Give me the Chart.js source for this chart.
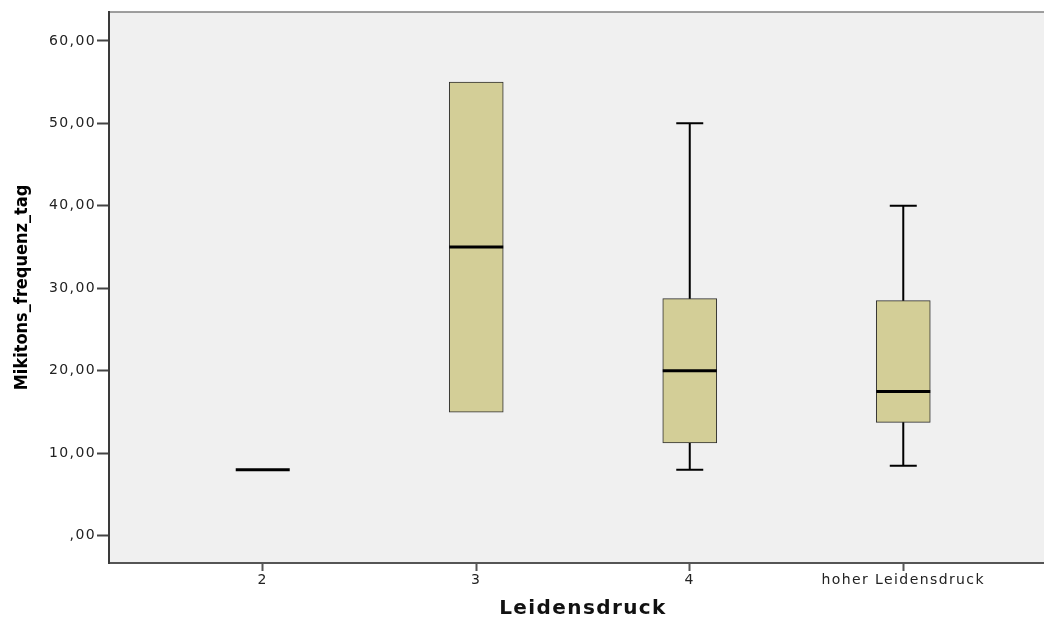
<!DOCTYPE html>
<html>
<head>
<meta charset="utf-8">
<script src="https://cdn.jsdelivr.net/npm/chart.js@4/dist/chart.umd.min.js"></script>
<style>
  html, body { margin: 0; padding: 0; background: #fff; overflow: hidden; }
  #wrap { width: 1058px; height: 619px; }
</style>
</head>
<body>
<div id="wrap"><canvas id="box" width="1058" height="619"></canvas></div>
<script>
// Leidensdruck groups and their box plot summary values
const categories = ['2', '3', '4', 'hoher Leidensdruck'];
const whiskerLow = [8, 15, 8, 8.5];
const q1 = [8, 15, 11.25, 13.75];
const medians = [8, 35, 20, 17.5];
const q3 = [8, 55, 28.75, 28.5];
const whiskerHigh = [8, 55, 50, 40];

const yTicks = [0, 10, 20, 30, 40, 50, 60];
const yTickLabels = [',00', '10,00', '20,00', '30,00', '40,00', '50,00', '60,00'];

const boxWidth = 54;
const wideText = '1.4px';

// boxes with a real spread become floating bars, a flat group gets only its median line
const boxData = categories.map((c, i) =>
    q3[i] > q1[i] ? { x: i + 1, y: [q1[i], q3[i]] } : null
).filter(d => d);

const plotArea = {
    id: 'plotArea',
    beforeUpdate(chart) {
        chart.ctx.letterSpacing = wideText;
    },
    beforeDraw(chart) {
        const { ctx, chartArea: a } = chart;
        ctx.letterSpacing = wideText;
        ctx.save();
        ctx.fillStyle = '#f0f0f0';
        ctx.fillRect(a.left, a.top, a.right - a.left, a.bottom - a.top);
        ctx.strokeStyle = '#808080';
        ctx.lineWidth = 1.5;
        ctx.beginPath();
        ctx.moveTo(a.left, a.top);
        ctx.lineTo(a.right, a.top);
        ctx.lineTo(a.right, a.bottom);
        ctx.stroke();
        ctx.restore();
    },
    afterDatasetsDraw(chart) {
        const { ctx, scales: { x, y } } = chart;
        ctx.save();
        ctx.strokeStyle = '#000';
        ctx.lineCap = 'butt';
        categories.forEach((c, i) => {
            const px = x.getPixelForValue(i + 1);
            const half = boxWidth / 2;
            const cap = boxWidth / 4;
            ctx.lineWidth = 2;
            if (whiskerHigh[i] > q3[i]) {
                const top = y.getPixelForValue(whiskerHigh[i]);
                ctx.beginPath();
                ctx.moveTo(px, y.getPixelForValue(q3[i]));
                ctx.lineTo(px, top);
                ctx.moveTo(px - cap, top);
                ctx.lineTo(px + cap, top);
                ctx.stroke();
            }
            if (whiskerLow[i] < q1[i]) {
                const bot = y.getPixelForValue(whiskerLow[i]);
                ctx.beginPath();
                ctx.moveTo(px, y.getPixelForValue(q1[i]));
                ctx.lineTo(px, bot);
                ctx.moveTo(px - cap, bot);
                ctx.lineTo(px + cap, bot);
                ctx.stroke();
            }
            const my = y.getPixelForValue(medians[i]);
            ctx.lineWidth = 3;
            ctx.beginPath();
            ctx.moveTo(px - half, my);
            ctx.lineTo(px + half, my);
            ctx.stroke();
        });
        ctx.restore();
        // y title is drawn after this point, without the wide spacing
        ctx.letterSpacing = '0px';
    }
};

new Chart(document.getElementById('box'), {
    type: 'bar',
    data: {
        datasets: [{
            data: boxData,
            backgroundColor: '#d3ce97',
            borderColor: '#2e2e2e',
            borderWidth: 1,
            borderSkipped: false,
            barThickness: boxWidth,
        }]
    },
    plugins: [plotArea],
    options: {
        responsive: false,
        animation: false,
        devicePixelRatio: 1,
        layout: { padding: { top: 12, right: 1, left: 0, bottom: 0 } },
        plugins: { legend: { display: false }, tooltip: { enabled: false } },
        scales: {
            x: {
                type: 'linear',
                min: 0.28,
                max: 4.72,
                offset: false,
                afterFit: s => { s.height = 56; },
                afterBuildTicks: s => { s.ticks = categories.map((c, i) => ({ value: i + 1 })); },
                grid: { offset: false, drawOnChartArea: false, tickLength: 8, tickColor: '#555', tickWidth: 2 },
                border: { display: true, color: '#555', width: 2 },
                ticks: {
                    padding: 1,
                    color: '#222',
                    font: { family: 'DejaVu Sans', size: 14 },
                    maxRotation: 0,
                    autoSkip: false,
                    callback: v => categories[v - 1]
                },
                title: {
                    display: true,
                    text: 'Leidensdruck',
                    color: '#111',
                    font: { family: 'DejaVu Sans', size: 20, weight: 'bold', lineHeight: 1 },
                    padding: { top: 0, bottom: 0 }
                }
            },
            y: {
                min: -3.3,
                max: 63.5,
                afterFit: s => { s.width = 109; },
                afterBuildTicks: s => { s.ticks = yTicks.map(v => ({ value: v })); },
                grid: { drawOnChartArea: false, tickLength: 12, tickColor: '#444', tickWidth: 2, z: 1 },
                border: { display: true, color: '#3a3a3a', width: 2, z: 1 },
                ticks: {
                    padding: 1,
                    color: '#222',
                    font: { family: 'DejaVu Sans', size: 14 },
                    callback: v => yTickLabels[yTicks.indexOf(v)]
                },
                title: {
                    display: true,
                    text: 'Mikitons_frequenz_tag',
                    color: '#000',
                    font: { family: "'Liberation Sans Narrow', 'DejaVu Sans Condensed', sans-serif", size: 18, weight: 'bold', lineHeight: 1 },
                    padding: { top: 13, bottom: 0 }
                }
            }
        }
    }
});
</script>
</body>
</html>
